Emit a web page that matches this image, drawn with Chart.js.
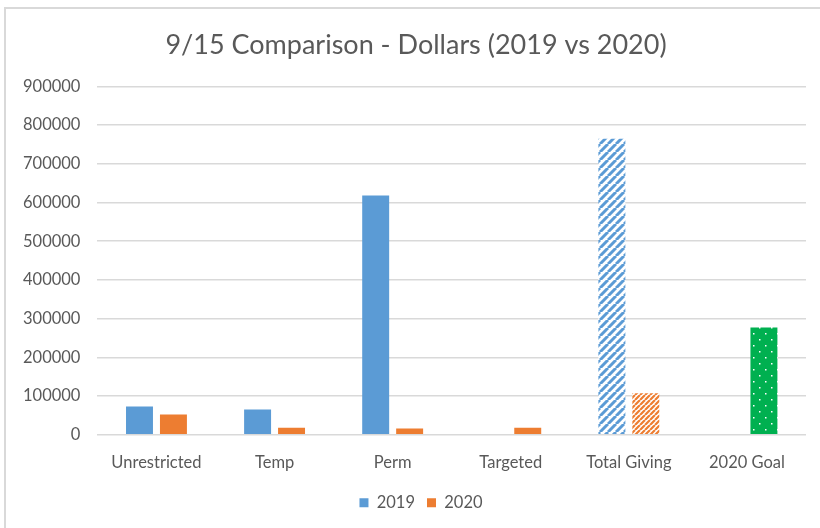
<!DOCTYPE html>
<html>
<head>
<meta charset="utf-8">
<script src="https://cdn.jsdelivr.net/npm/chart.js@4"></script>
<style>
  html, body { margin: 0; padding: 0; background: #fff; }
  #wrap { position: relative; width: 820px; height: 528px; }
  #frame { position: absolute; left: 4px; top: 7px; right: 0; bottom: 0;
           border-left: 2px solid #d9d9d9; border-top: 2px solid #d9d9d9; pointer-events: none; }
</style>
</head>
<body>
<div id="wrap">
  <canvas id="myChart" width="820" height="528"></canvas>
  <div id="frame"></div>
</div>
<script>
var categories = ['Unrestricted', 'Temp', 'Perm', 'Targeted', 'Total Giving', '2020 Goal'];
var values2019 = [73000, 65000, 618000, null, 765000, null];
var values2020 = [52000, 18000, 16000, 18000, 107000, 277000];
var yTicks = [0, 100000, 200000, 300000, 400000, 500000, 600000, 700000, 800000, 900000];

var BLUE = '#5b9bd5';
var ORANGE = '#ed7d31';
var GREEN = '#00b050';
var TEXT = '#595959';

// hatch patterns like the excel ones
function stripes(color, size, width){
  var c = document.createElement('canvas');
  c.width = size; c.height = size;
  var g = c.getContext('2d');
  g.fillStyle = '#fff';
  g.fillRect(0, 0, size, size);
  g.strokeStyle = color;
  g.lineWidth = width;
  g.beginPath();
  for (var k = -1; k <= 1; k++){
    g.moveTo(k*size, size);
    g.lineTo(k*size + size, 0);
  }
  g.stroke();
  return g.createPattern(c, 'repeat');
}
function dots(color){
  var c = document.createElement('canvas');
  c.width = 12; c.height = 12;
  var g = c.getContext('2d');
  g.fillStyle = color;
  g.fillRect(0, 0, 12, 12);
  g.fillStyle = '#fff';
  g.fillRect(3, 3, 1.5, 1.5);
  g.fillRect(9, 9, 1.5, 1.5);
  return g.createPattern(c, 'repeat');
}
var blueHatch = stripes(BLUE, 8, 3);
var orangeHatch = stripes(ORANGE, 5, 2.2);
var greenDots = dots(GREEN);

// title and legend sit centred on the whole picture, not the padded box
var shiftBoxes = {
  id: 'shiftBoxes',
  afterLayout: function(chart){
    chart.titleBlock.left += 10; chart.titleBlock.right += 10;
    chart.legend.left += 15; chart.legend.right += 15;
  }
};

Chart.defaults.font.family = 'Lato, "Open Sans", sans-serif';
Chart.defaults.color = TEXT;

var ctx = document.getElementById('myChart').getContext('2d');
var chart = new Chart(ctx, {
  type: 'bar',
  data: {
    labels: categories,
    datasets: [{
      label: '2019',
      data: values2019,
      backgroundColor: function(c){
        if (c.dataIndex === 4) return blueHatch;
        return BLUE;
      }
    }, {
      label: '2020',
      data: values2020,
      backgroundColor: function(c){
        if (c.dataIndex === 4) return orangeHatch;
        if (c.dataIndex === 5) return greenDots;
        return ORANGE;
      }
    }]
  },
  options: {
    responsive: false,
    animation: false,
    categoryPercentage: 0.575,
    barPercentage: 0.794,
    layout: { padding: { left: 6, right: 14, top: 0, bottom: 7 } },
    plugins: {
      title: {
        display: true,
        text: '9/15 Comparison - Dollars (2019 vs 2020)',
        color: TEXT,
        font: { size: 27, weight: 'normal' },
        padding: { top: 29, bottom: 25 }
      },
      legend: {
        position: 'bottom',
        labels: {
          boxWidth: 9,
          boxHeight: 9,
          padding: 12,
          font: { size: 16.5 },
          color: TEXT
        }
      },
      tooltip: { enabled: false }
    },
    scales: {
      x: {
        grid: { display: false },
        border: { display: false },
        ticks: { font: { size: 16.5 }, color: TEXT, padding: 10, maxRotation: 0 }
      },
      y: {
        min: 0,
        max: yTicks[yTicks.length - 1],
        afterBuildTicks: function(axis){
          axis.ticks = yTicks.map(function(v){ return { value: v }; });
        },
        grid: { color: '#d9d9d9', lineWidth: 1.5, drawTicks: false },
        border: { display: false },
        ticks: { font: { size: 16.5 }, color: TEXT, padding: 17,
          callback: function(v){ return String(v); } }
      }
    }
  },
  plugins: [shiftBoxes]
});
</script>
</body>
</html>
